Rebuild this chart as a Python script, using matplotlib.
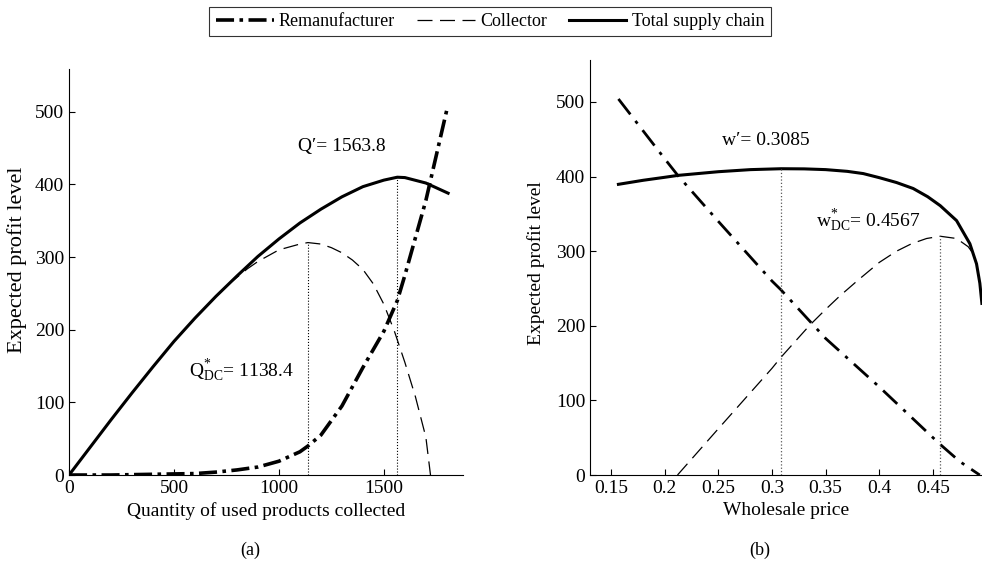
import matplotlib
matplotlib.use("Agg")
import matplotlib.pyplot as plt

plt.rcParams['font.family'] = ['Liberation Serif', 'DejaVu Serif']
plt.rcParams['mathtext.fontset'] = 'custom'
plt.rcParams['mathtext.rm'] = 'Liberation Serif'
plt.rcParams['mathtext.it'] = 'Liberation Serif:italic'

## (a) profit vs quantity collected
q_total = [0, 100, 200, 300, 400, 500, 600, 700, 800, 900, 1000, 1100, 1200,
           1300, 1400, 1500, 1563.8, 1600, 1700, 1806]
total_a = [0, 38, 76, 113, 149, 184, 216, 246, 274, 301, 325, 347, 366,
           383, 397, 406, 410, 409.5, 402, 388]

q_coll = [0, 100, 200, 300, 400, 500, 600, 700, 770, 850, 900, 1000, 1100,
          1138.4, 1200, 1250, 1300, 1350, 1400, 1450, 1500, 1550, 1600, 1650,
          1700, 1722]
coll_a = [0, 38, 76, 113, 149, 184, 216, 246, 265, 284, 294, 310, 318,
          320, 318, 313, 306, 296, 283, 263, 235, 198, 155, 108, 52, 0]

q_reman = [0, 200, 400, 600, 700, 800, 900, 1000, 1100, 1138.4, 1200, 1300,
           1400, 1500, 1563.8, 1600, 1700, 1800]
reman_a = [0, 0, 1, 2, 4, 7, 11, 19, 32, 40, 55, 95, 148, 198, 240, 275,
           378, 503]

## (b) profit vs wholesale price
w_total = [0.157, 0.18, 0.2, 0.2126, 0.25, 0.28, 0.3085, 0.33, 0.35, 0.37,
           0.385, 0.40, 0.416, 0.4315, 0.445, 0.4567, 0.4719, 0.4843, 0.4905,
           0.4936, 0.4955]
total_b = [389.6, 395, 399, 401.6, 406.5, 409.3, 410.5, 410.3, 409.3, 407,
           404, 398.5, 392, 384, 373, 361, 341, 310, 283, 257, 230]

w_coll = [0.212, 0.25, 0.30, 0.3085, 0.3353, 0.35, 0.3632, 0.38, 0.40, 0.416,
          0.43, 0.444, 0.4567, 0.4719, 0.4827, 0.4873, 0.4905, 0.4936, 0.4955]
coll_b = [0, 62, 143, 158, 201, 222, 240, 261, 285, 300, 310, 317, 320, 317,
          306, 297, 283, 257, 230]

w_reman = [0.157, 0.2, 0.2126, 0.25, 0.3, 0.3085, 0.35, 0.4, 0.45, 0.4567,
           0.475, 0.4935]
reman_b = [504, 424, 401, 340, 260, 248, 183, 118, 50, 41, 18, 0]

q_opt = [1138.4, 1563.8]
w_opt = [0.3085, 0.4567]

fig = plt.figure(figsize=(9.82, 5.73), dpi=100)
ax1 = fig.add_axes([0.0703, 0.171, 0.401, 0.7086])
ax2 = fig.add_axes([0.6008, 0.171, 0.3992, 0.724])

l_r, = ax1.plot(q_reman, reman_a, color='black', lw=2.6, dashes=(5, 1.5, 1, 1.5))
l_c, = ax1.plot(q_coll, coll_a, color='black', lw=0.9, dashes=(12, 6))
l_t, = ax1.plot(q_total, total_a, color='black', lw=2.2)
ax1.plot([q_opt[0], q_opt[0]], [0, 320], color='black', lw=0.8, ls=':')
ax1.plot([q_opt[1], q_opt[1]], [0, 410], color='black', lw=0.8, ls=':')
ax1.text(1090, 452, u"Q\u2032= 1563.8", fontsize=14, va='center')
ax1.text(573, 136, r"$\mathrm{Q}^{*}_{\mathrm{DC}}$= 1138.4", fontsize=14, va='baseline')
ax1.set_xlim(0, 1876)
ax1.set_ylim(0, 559)
ax1.set_xticks([0, 500, 1000, 1500])
ax1.set_xlabel("Quantity of used products collected", fontsize=14)
ax1.set_ylabel("Expected profit level", fontsize=16)
ax1.yaxis.set_label_coords(-0.108, 0.53)

ax2.plot(w_reman, reman_b, color='black', lw=2.0, dashes=(7, 3, 1.2, 3))
ax2.plot(w_coll, coll_b, color='black', lw=0.9, dashes=(12, 6))
ax2.plot(w_total, total_b, color='black', lw=2.2)
ax2.plot([w_opt[0], w_opt[0]], [0, 410], color='0.35', lw=0.9, ls=':')
ax2.plot([w_opt[1], w_opt[1]], [0, 320], color='0.35', lw=0.9, ls=':')
ax2.text(0.2531, 449, u"w\u2032= 0.3085", fontsize=14, va='center')
ax2.text(0.3409, 333, r"$\mathrm{w}^{*}_{\mathrm{DC}}$= 0.4567", fontsize=14, va='baseline')
ax2.set_xlim(0.1305, 0.4956)
ax2.set_ylim(0, 556)
ax2.set_xticks([0.15, 0.2, 0.25, 0.3, 0.35, 0.4, 0.45])
ax2.set_xticklabels(['0.15', '0.2', '0.25', '0.3', '0.35', '0.4', '0.45'])
ax2.set_xlabel("Wholesale price", fontsize=14)
ax2.set_ylabel("Expected profit level", fontsize=14)
ax2.yaxis.set_label_coords(-0.116, 0.51)

for ax in (ax1, ax2):
    ax.set_yticks([0, 100, 200, 300, 400, 500])
    ax.spines['top'].set_visible(False)
    ax.spines['right'].set_visible(False)
    ax.tick_params(direction='in', length=4, labelsize=14, width=0.8)

leg = fig.legend([l_r, l_c, l_t], ["Remanufacturer", "Collector", "Total supply chain"],
                 loc='center', bbox_to_anchor=(0.499, 0.9625), ncol=3, fontsize=13,
                 fancybox=False, edgecolor='black', handlelength=3.2,
                 columnspacing=1.2, handletextpad=0.3, borderpad=0.35)
leg.get_frame().set_linewidth(0.8)

fig.text(0.2546, 0.040, "(a)", fontsize=13, ha='center', va='center')
fig.text(0.774, 0.040, "(b)", fontsize=13, ha='center', va='center')

plt.savefig("out.png", dpi=100)
